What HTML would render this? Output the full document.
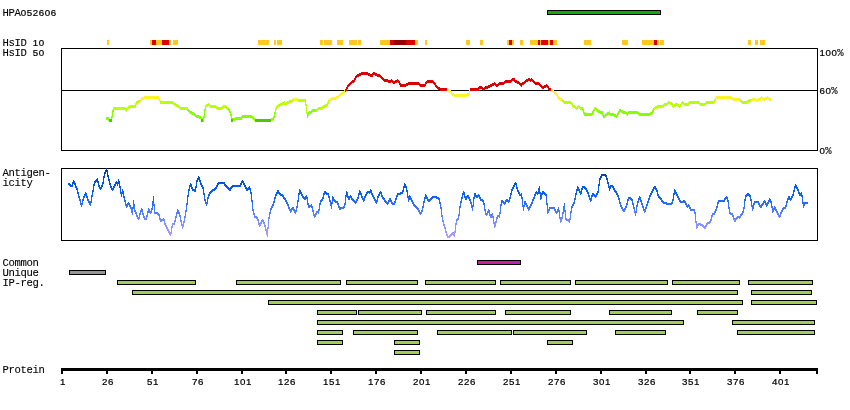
<!DOCTYPE html>
<html><head><meta charset="utf-8"><title>HPA052606</title>
<style>
html,body{margin:0;padding:0;background:#fff}
svg{display:block}
text{fill:#000;white-space:pre;stroke:#000}
.m{font-family:'Liberation Mono',monospace;font-size:10.6px;letter-spacing:-0.36px;stroke-width:0.1px}
.d{font-family:'Liberation Sans',sans-serif;font-size:9.7px;letter-spacing:0.61px;stroke-width:0.22px}
</style></head><body>
<svg width="850" height="410" viewBox="0 0 850 410">
<rect width="850" height="410" fill="#fff"/>
<text y="16"><tspan class="m" x="2.5">HPA</tspan><tspan class="d" x="20.7">052606</tspan></text>
<text y="46"><tspan class="m" x="2.5">HsID </tspan><tspan class="d" x="32.7">10</tspan></text>
<text y="56"><tspan class="m" x="2.5">HsID </tspan><tspan class="d" x="32.7">50</tspan></text>
<text y="56"><tspan class="d" x="819.5">100</tspan><tspan class="m" x="837.3">%</tspan></text>
<text y="94"><tspan class="d" x="819.5">60</tspan><tspan class="m" x="831.3">%</tspan></text>
<text y="154"><tspan class="d" x="819.5">0</tspan><tspan class="m" x="825.3">%</tspan></text>
<text y="176"><tspan class="m" x="2.5">Antigen-</tspan></text>
<text y="186"><tspan class="m" x="2.5">icity</tspan></text>
<text y="266"><tspan class="m" x="2.5">Common</tspan></text>
<text y="276"><tspan class="m" x="2.5">Unique</tspan></text>
<text y="286"><tspan class="m" x="2.5">IP-reg.</tspan></text>
<text y="373"><tspan class="m" x="2.5">Protein</tspan></text>
<g shape-rendering="crispEdges">
<rect x="547.5" y="10.5" width="113" height="4" fill="#12aa04" stroke="#000" stroke-width="1"/>
<rect x="107" y="40" width="2" height="5" fill="#ffc820"/>
<rect x="150" y="40" width="2" height="5" fill="#ffc820"/>
<rect x="152" y="40" width="4" height="5" fill="#dd0000"/>
<rect x="156" y="40" width="6" height="5" fill="#ffc820"/>
<rect x="162" y="40" width="7" height="5" fill="#dd0000"/>
<rect x="169" y="40" width="2" height="5" fill="#ffc820"/>
<rect x="173" y="40" width="5" height="5" fill="#ffc820"/>
<rect x="258" y="40" width="11" height="5" fill="#ffc820"/>
<rect x="274" y="40" width="2" height="5" fill="#ffc820"/>
<rect x="277" y="40" width="5" height="5" fill="#ffc820"/>
<rect x="320" y="40" width="3" height="5" fill="#ffc820"/>
<rect x="324" y="40" width="8" height="5" fill="#ffc820"/>
<rect x="337" y="40" width="6" height="5" fill="#ffc820"/>
<rect x="349" y="40" width="8" height="5" fill="#ffc820"/>
<rect x="358" y="40" width="3" height="5" fill="#ffc820"/>
<rect x="380" y="40" width="10" height="5" fill="#ffc820"/>
<rect x="390" y="40" width="4" height="5" fill="#dd0000"/>
<rect x="394" y="40" width="12" height="5" fill="#990000"/>
<rect x="406" y="40" width="9" height="5" fill="#dd0000"/>
<rect x="415" y="40" width="3" height="5" fill="#ffc820"/>
<rect x="425" y="40" width="2" height="5" fill="#ffc820"/>
<rect x="466" y="40" width="4" height="5" fill="#ffc820"/>
<rect x="480" y="40" width="3" height="5" fill="#ffc820"/>
<rect x="507" y="40" width="2" height="5" fill="#ffc820"/>
<rect x="509" y="40" width="3" height="5" fill="#dd0000"/>
<rect x="512" y="40" width="2" height="5" fill="#ffc820"/>
<rect x="520" y="40" width="3" height="5" fill="#ffc820"/>
<rect x="530" y="40" width="8" height="5" fill="#ffc820"/>
<rect x="538" y="40" width="2" height="5" fill="#dd0000"/>
<rect x="540" y="40" width="1" height="5" fill="#ffc820"/>
<rect x="541" y="40" width="7" height="5" fill="#dd0000"/>
<rect x="548" y="40" width="2" height="5" fill="#ffc820"/>
<rect x="550" y="40" width="3" height="5" fill="#dd0000"/>
<rect x="553" y="40" width="4" height="5" fill="#ffc820"/>
<rect x="584" y="40" width="7" height="5" fill="#ffc820"/>
<rect x="622" y="40" width="6" height="5" fill="#ffc820"/>
<rect x="642" y="40" width="12" height="5" fill="#ffc820"/>
<rect x="654" y="40" width="3" height="5" fill="#dd0000"/>
<rect x="657" y="40" width="2" height="5" fill="#ffc820"/>
<rect x="660" y="40" width="4" height="5" fill="#ffc820"/>
<rect x="748" y="40" width="3" height="5" fill="#ffc820"/>
<rect x="755" y="40" width="3" height="5" fill="#ffc820"/>
<rect x="760" y="40" width="5" height="5" fill="#ffc820"/>
<rect x="61.5" y="48.5" width="756" height="102" fill="none" stroke="#000"/>
<rect x="61" y="90" width="757" height="1" fill="#000"/>
<rect x="61.5" y="168.5" width="756" height="72" fill="none" stroke="#000"/>
<rect x="477.5" y="260.5" width="43" height="4" fill="#ca1da7" stroke="#000" stroke-width="1"/>
<rect x="69.5" y="270.5" width="36" height="4" fill="#959595" stroke="#000" stroke-width="1"/>
<rect x="117.5" y="280.5" width="78" height="4" fill="#a2cd5a" stroke="#000" stroke-width="1"/>
<rect x="236.5" y="280.5" width="104" height="4" fill="#a2cd5a" stroke="#000" stroke-width="1"/>
<rect x="346.5" y="280.5" width="71" height="4" fill="#a2cd5a" stroke="#000" stroke-width="1"/>
<rect x="425.5" y="280.5" width="70" height="4" fill="#a2cd5a" stroke="#000" stroke-width="1"/>
<rect x="500.5" y="280.5" width="70" height="4" fill="#a2cd5a" stroke="#000" stroke-width="1"/>
<rect x="575.5" y="280.5" width="92" height="4" fill="#a2cd5a" stroke="#000" stroke-width="1"/>
<rect x="672.5" y="280.5" width="67" height="4" fill="#a2cd5a" stroke="#000" stroke-width="1"/>
<rect x="748.5" y="280.5" width="64" height="4" fill="#a2cd5a" stroke="#000" stroke-width="1"/>
<rect x="132.5" y="290.5" width="605" height="4" fill="#a2cd5a" stroke="#000" stroke-width="1"/>
<rect x="751.5" y="290.5" width="60" height="4" fill="#a2cd5a" stroke="#000" stroke-width="1"/>
<rect x="268.5" y="300.5" width="474" height="4" fill="#a2cd5a" stroke="#000" stroke-width="1"/>
<rect x="751.5" y="300.5" width="65" height="4" fill="#a2cd5a" stroke="#000" stroke-width="1"/>
<rect x="317.5" y="310.5" width="39" height="4" fill="#a2cd5a" stroke="#000" stroke-width="1"/>
<rect x="358.5" y="310.5" width="63" height="4" fill="#a2cd5a" stroke="#000" stroke-width="1"/>
<rect x="426.5" y="310.5" width="69" height="4" fill="#a2cd5a" stroke="#000" stroke-width="1"/>
<rect x="505.5" y="310.5" width="65" height="4" fill="#a2cd5a" stroke="#000" stroke-width="1"/>
<rect x="609.5" y="310.5" width="62" height="4" fill="#a2cd5a" stroke="#000" stroke-width="1"/>
<rect x="697.5" y="310.5" width="40" height="4" fill="#a2cd5a" stroke="#000" stroke-width="1"/>
<rect x="317.5" y="320.5" width="366" height="4" fill="#a2cd5a" stroke="#000" stroke-width="1"/>
<rect x="732.5" y="320.5" width="82" height="4" fill="#a2cd5a" stroke="#000" stroke-width="1"/>
<rect x="317.5" y="330.5" width="25" height="4" fill="#a2cd5a" stroke="#000" stroke-width="1"/>
<rect x="353.5" y="330.5" width="64" height="4" fill="#a2cd5a" stroke="#000" stroke-width="1"/>
<rect x="437.5" y="330.5" width="74" height="4" fill="#a2cd5a" stroke="#000" stroke-width="1"/>
<rect x="513.5" y="330.5" width="73" height="4" fill="#a2cd5a" stroke="#000" stroke-width="1"/>
<rect x="615.5" y="330.5" width="50" height="4" fill="#a2cd5a" stroke="#000" stroke-width="1"/>
<rect x="737.5" y="330.5" width="77" height="4" fill="#a2cd5a" stroke="#000" stroke-width="1"/>
<rect x="317.5" y="340.5" width="25" height="4" fill="#a2cd5a" stroke="#000" stroke-width="1"/>
<rect x="394.5" y="340.5" width="25" height="4" fill="#a2cd5a" stroke="#000" stroke-width="1"/>
<rect x="547.5" y="340.5" width="25" height="4" fill="#a2cd5a" stroke="#000" stroke-width="1"/>
<rect x="394.5" y="350.5" width="25" height="4" fill="#a2cd5a" stroke="#000" stroke-width="1"/>
<rect x="61" y="368" width="757" height="3" fill="#000"/>
<rect x="61" y="371" width="2" height="3" fill="#000"/>
<rect x="106" y="371" width="2" height="3" fill="#000"/>
<rect x="151" y="371" width="2" height="3" fill="#000"/>
<rect x="196" y="371" width="2" height="3" fill="#000"/>
<rect x="241" y="371" width="2" height="3" fill="#000"/>
<rect x="285" y="371" width="2" height="3" fill="#000"/>
<rect x="330" y="371" width="2" height="3" fill="#000"/>
<rect x="375" y="371" width="2" height="3" fill="#000"/>
<rect x="420" y="371" width="2" height="3" fill="#000"/>
<rect x="465" y="371" width="2" height="3" fill="#000"/>
<rect x="510" y="371" width="2" height="3" fill="#000"/>
<rect x="555" y="371" width="2" height="3" fill="#000"/>
<rect x="600" y="371" width="2" height="3" fill="#000"/>
<rect x="645" y="371" width="2" height="3" fill="#000"/>
<rect x="689" y="371" width="2" height="3" fill="#000"/>
<rect x="734" y="371" width="2" height="3" fill="#000"/>
<rect x="779" y="371" width="2" height="3" fill="#000"/>
<rect x="816" y="371" width="2" height="3" fill="#000"/>
</g>
<text y="385"><tspan class="d" x="59.9">1</tspan></text>
<text y="385"><tspan class="d" x="101.9">26</tspan></text>
<text y="385"><tspan class="d" x="146.9">51</tspan></text>
<text y="385"><tspan class="d" x="191.9">76</tspan></text>
<text y="385"><tspan class="d" x="233.9">101</tspan></text>
<text y="385"><tspan class="d" x="277.9">126</tspan></text>
<text y="385"><tspan class="d" x="322.9">151</tspan></text>
<text y="385"><tspan class="d" x="367.9">176</tspan></text>
<text y="385"><tspan class="d" x="412.9">201</tspan></text>
<text y="385"><tspan class="d" x="457.9">226</tspan></text>
<text y="385"><tspan class="d" x="502.9">251</tspan></text>
<text y="385"><tspan class="d" x="547.9">276</tspan></text>
<text y="385"><tspan class="d" x="592.9">301</tspan></text>
<text y="385"><tspan class="d" x="637.9">326</tspan></text>
<text y="385"><tspan class="d" x="681.9">351</tspan></text>
<text y="385"><tspan class="d" x="726.9">376</tspan></text>
<text y="385"><tspan class="d" x="771.9">401</tspan></text>
<g shape-rendering="crispEdges">
<path fill="#88ff00" d="M582 107h1v1h-1zM205 108h1v1h-1zM228 108h1v1h-1zM582 108h1v1h-1zM596 108h1v1h-1zM653 108h1v1h-1zM188 109h1v1h-1zM204 109h2v1h-2zM228 109h2v1h-2zM312 109h4v1h-4zM582 109h2v1h-2zM593 109h1v1h-1zM596 109h2v1h-2zM619 109h2v1h-2zM653 109h1v1h-1zM112 110h2v1h-2zM188 110h2v1h-2zM204 110h2v1h-2zM228 110h2v1h-2zM311 110h5v1h-5zM582 110h2v1h-2zM593 110h2v1h-2zM596 110h4v1h-4zM619 110h4v1h-4zM652 110h2v1h-2zM112 111h2v1h-2zM188 111h4v1h-4zM204 111h1v1h-1zM229 111h2v1h-2zM309 111h7v1h-7zM583 111h1v1h-1zM592 111h2v1h-2zM597 111h6v1h-6zM609 111h1v1h-1zM618 111h8v1h-8zM628 111h10v1h-10zM652 111h2v1h-2zM112 112h1v1h-1zM189 112h5v1h-5zM204 112h1v1h-1zM229 112h2v1h-2zM274 112h1v1h-1zM308 112h4v1h-4zM583 112h2v1h-2zM592 112h2v1h-2zM598 112h5v1h-5zM607 112h3v1h-3zM618 112h2v1h-2zM621 112h18v1h-18zM650 112h3v1h-3zM112 113h1v1h-1zM190 113h5v1h-5zM204 113h1v1h-1zM230 113h1v1h-1zM274 113h2v1h-2zM308 113h3v1h-3zM583 113h10v1h-10zM600 113h3v1h-3zM606 113h8v1h-8zM617 113h2v1h-2zM623 113h30v1h-30zM112 114h1v1h-1zM192 114h4v1h-4zM204 114h1v1h-1zM230 114h2v1h-2zM274 114h1v1h-1zM307 114h2v1h-2zM584 114h9v1h-9zM602 114h2v1h-2zM605 114h11v1h-11zM617 114h2v1h-2zM626 114h2v1h-2zM638 114h14v1h-14zM112 115h1v1h-1zM194 115h5v1h-5zM204 115h1v1h-1zM230 115h2v1h-2zM242 115h10v1h-10zM274 115h1v1h-1zM307 115h2v1h-2zM584 115h8v1h-8zM602 115h5v1h-5zM610 115h8v1h-8zM627 115h1v1h-1zM639 115h11v1h-11zM111 116h2v1h-2zM195 116h6v1h-6zM203 116h2v1h-2zM231 116h1v1h-1zM241 116h12v1h-12zM273 116h2v1h-2zM307 116h1v1h-1zM603 116h3v1h-3zM614 116h4v1h-4zM106 117h3v1h-3zM111 117h2v1h-2zM196 117h6v1h-6zM203 117h2v1h-2zM231 117h1v1h-1zM235 117h19v1h-19zM273 117h2v1h-2zM307 117h1v1h-1zM603 117h2v1h-2zM616 117h1v1h-1zM106 118h3v1h-3zM111 118h1v1h-1zM199 118h5v1h-5zM231 118h11v1h-11zM252 118h3v1h-3zM271 118h3v1h-3zM106 119h3v1h-3zM203 119h1v1h-1zM233 119h9v1h-9zM253 119h2v1h-2zM271 119h3v1h-3zM108 120h1v1h-1zM203 120h1v1h-1zM233 120h2v1h-2zM254 120h1v1h-1zM271 120h2v1h-2zM203 121h1v1h-1z"/>
<path fill="#50c800" d="M109 119h3v1h-3zM201 119h2v1h-2zM231 119h2v1h-2zM255 119h16v1h-16zM109 120h3v1h-3zM201 120h2v1h-2zM231 120h2v1h-2zM255 120h16v1h-16zM109 121h3v1h-3zM201 121h2v1h-2zM231 121h2v1h-2zM255 121h16v1h-16z"/>
<path fill="#bbff00" d="M292 99h1v1h-1zM298 99h8v1h-8zM562 99h1v1h-1zM714 99h1v1h-1zM740 99h1v1h-1zM749 99h2v1h-2zM138 100h2v1h-2zM289 100h4v1h-4zM298 100h8v1h-8zM328 100h1v1h-1zM562 100h2v1h-2zM714 100h1v1h-1zM740 100h2v1h-2zM747 100h4v1h-4zM136 101h4v1h-4zM160 101h13v1h-13zM284 101h1v1h-1zM287 101h6v1h-6zM298 101h8v1h-8zM328 101h1v1h-1zM562 101h9v1h-9zM668 101h2v1h-2zM682 101h1v1h-1zM689 101h10v1h-10zM706 101h9v1h-9zM740 101h11v1h-11zM136 102h4v1h-4zM160 102h14v1h-14zM282 102h3v1h-3zM286 102h6v1h-6zM305 102h1v1h-1zM327 102h2v1h-2zM563 102h9v1h-9zM667 102h5v1h-5zM681 102h3v1h-3zM688 102h12v1h-12zM705 102h10v1h-10zM741 102h8v1h-8zM135 103h3v1h-3zM160 103h16v1h-16zM208 103h1v1h-1zM280 103h9v1h-9zM305 103h1v1h-1zM327 103h2v1h-2zM564 103h9v1h-9zM664 103h9v1h-9zM675 103h3v1h-3zM681 103h33v1h-33zM742 103h5v1h-5zM135 104h2v1h-2zM173 104h5v1h-5zM206 104h4v1h-4zM278 104h9v1h-9zM305 104h2v1h-2zM325 104h3v1h-3zM571 104h2v1h-2zM663 104h5v1h-5zM670 104h3v1h-3zM674 104h5v1h-5zM680 104h2v1h-2zM683 104h6v1h-6zM699 104h7v1h-7zM129 105h7v1h-7zM174 105h5v1h-5zM205 105h11v1h-11zM223 105h3v1h-3zM277 105h5v1h-5zM285 105h1v1h-1zM305 105h2v1h-2zM323 105h5v1h-5zM572 105h3v1h-3zM578 105h1v1h-1zM657 105h10v1h-10zM672 105h10v1h-10zM684 105h5v1h-5zM700 105h5v1h-5zM128 106h8v1h-8zM176 106h4v1h-4zM205 106h3v1h-3zM209 106h8v1h-8zM222 106h5v1h-5zM276 106h4v1h-4zM306 106h1v1h-1zM322 106h5v1h-5zM572 106h4v1h-4zM577 106h3v1h-3zM655 106h9v1h-9zM672 106h3v1h-3zM678 106h3v1h-3zM113 107h12v1h-12zM127 107h9v1h-9zM178 107h10v1h-10zM205 107h1v1h-1zM210 107h18v1h-18zM276 107h2v1h-2zM306 107h1v1h-1zM318 107h7v1h-7zM573 107h9v1h-9zM594 107h2v1h-2zM654 107h9v1h-9zM673 107h1v1h-1zM679 107h1v1h-1zM113 108h16v1h-16zM179 108h9v1h-9zM216 108h7v1h-7zM226 108h2v1h-2zM275 108h2v1h-2zM306 108h1v1h-1zM317 108h6v1h-6zM575 108h3v1h-3zM579 108h3v1h-3zM594 108h2v1h-2zM654 108h3v1h-3zM113 109h15v1h-15zM180 109h8v1h-8zM217 109h5v1h-5zM227 109h1v1h-1zM275 109h2v1h-2zM306 109h1v1h-1zM316 109h6v1h-6zM576 109h1v1h-1zM580 109h2v1h-2zM594 109h2v1h-2zM654 109h1v1h-1zM125 110h2v1h-2zM187 110h1v1h-1zM275 110h1v1h-1zM306 110h1v1h-1zM316 110h2v1h-2zM126 111h1v1h-1zM275 111h1v1h-1zM306 111h1v1h-1zM316 111h1v1h-1zM275 112h1v1h-1zM306 112h2v1h-2zM306 113h2v1h-2z"/>
<path fill="#fff228" d="M447 88h1v1h-1zM447 89h2v1h-2zM551 89h2v1h-2zM344 90h1v1h-1zM447 90h4v1h-4zM469 90h1v1h-1zM551 90h3v1h-3zM343 91h2v1h-2zM448 91h4v1h-4zM469 91h2v1h-2zM551 91h4v1h-4zM341 92h4v1h-4zM449 92h3v1h-3zM469 92h1v1h-1zM553 92h3v1h-3zM340 93h4v1h-4zM451 93h3v1h-3zM467 93h3v1h-3zM554 93h3v1h-3zM339 94h4v1h-4zM451 94h19v1h-19zM555 94h3v1h-3zM338 95h3v1h-3zM452 95h17v1h-17zM556 95h2v1h-2zM144 96h15v1h-15zM336 96h4v1h-4zM454 96h13v1h-13zM557 96h2v1h-2zM716 96h15v1h-15zM761 96h1v1h-1zM767 96h1v1h-1zM142 97h17v1h-17zM332 97h7v1h-7zM557 97h3v1h-3zM715 97h18v1h-18zM760 97h3v1h-3zM765 97h4v1h-4zM141 98h19v1h-19zM293 98h5v1h-5zM330 98h8v1h-8zM558 98h4v1h-4zM715 98h25v1h-25zM752 98h4v1h-4zM758 98h13v1h-13zM140 99h4v1h-4zM158 99h2v1h-2zM293 99h5v1h-5zM329 99h7v1h-7zM558 99h4v1h-4zM715 99h1v1h-1zM731 99h9v1h-9zM751 99h10v1h-10zM762 99h5v1h-5zM768 99h3v1h-3zM140 100h2v1h-2zM159 100h2v1h-2zM293 100h5v1h-5zM329 100h3v1h-3zM560 100h2v1h-2zM715 100h1v1h-1zM733 100h7v1h-7zM751 100h10v1h-10zM763 100h2v1h-2zM769 100h2v1h-2zM140 101h1v1h-1zM159 101h1v1h-1zM329 101h1v1h-1zM751 101h1v1h-1zM756 101h2v1h-2z"/>
<path fill="#dd0000" d="M361 72h7v1h-7zM373 72h2v1h-2zM359 73h11v1h-11zM372 73h5v1h-5zM357 74h23v1h-23zM356 75h5v1h-5zM368 75h5v1h-5zM375 75h6v1h-6zM355 76h4v1h-4zM370 76h3v1h-3zM377 76h5v1h-5zM355 77h2v1h-2zM380 77h3v1h-3zM354 78h2v1h-2zM381 78h3v1h-3zM512 78h3v1h-3zM528 78h2v1h-2zM531 78h1v1h-1zM354 79h2v1h-2zM382 79h6v1h-6zM391 79h1v1h-1zM397 79h1v1h-1zM511 79h4v1h-4zM526 79h7v1h-7zM352 80h3v1h-3zM383 80h10v1h-10zM395 80h4v1h-4zM427 80h6v1h-6zM505 80h12v1h-12zM525 80h9v1h-9zM351 81h4v1h-4zM384 81h16v1h-16zM426 81h8v1h-8zM504 81h8v1h-8zM514 81h5v1h-5zM524 81h4v1h-4zM530 81h1v1h-1zM532 81h3v1h-3zM350 82h4v1h-4zM388 82h3v1h-3zM392 82h5v1h-5zM398 82h2v1h-2zM408 82h11v1h-11zM425 82h10v1h-10zM494 82h1v1h-1zM499 82h12v1h-12zM515 82h5v1h-5zM522 82h4v1h-4zM533 82h6v1h-6zM349 83h3v1h-3zM393 83h2v1h-2zM399 83h2v1h-2zM406 83h14v1h-14zM425 83h2v1h-2zM433 83h3v1h-3zM492 83h4v1h-4zM498 83h7v1h-7zM517 83h8v1h-8zM534 83h6v1h-6zM348 84h3v1h-3zM399 84h27v1h-27zM434 84h2v1h-2zM490 84h14v1h-14zM519 84h5v1h-5zM535 84h6v1h-6zM546 84h1v1h-1zM347 85h3v1h-3zM400 85h8v1h-8zM419 85h7v1h-7zM435 85h2v1h-2zM488 85h6v1h-6zM495 85h4v1h-4zM520 85h2v1h-2zM539 85h3v1h-3zM544 85h4v1h-4zM347 86h2v1h-2zM400 86h6v1h-6zM420 86h5v1h-5zM435 86h3v1h-3zM479 86h3v1h-3zM485 86h7v1h-7zM496 86h2v1h-2zM521 86h1v1h-1zM540 86h9v1h-9zM346 87h2v1h-2zM436 87h4v1h-4zM478 87h5v1h-5zM484 87h6v1h-6zM541 87h5v1h-5zM547 87h2v1h-2zM346 88h2v1h-2zM437 88h10v1h-10zM470 88h18v1h-18zM542 88h2v1h-2zM548 88h3v1h-3zM345 89h2v1h-2zM438 89h9v1h-9zM470 89h9v1h-9zM482 89h3v1h-3zM548 89h3v1h-3zM345 90h2v1h-2zM440 90h7v1h-7zM470 90h9v1h-9zM483 90h1v1h-1zM549 90h2v1h-2zM345 91h1v1h-1z"/>
</g>
<g shape-rendering="crispEdges">
<path fill="#003d97" d="M106 168h1v1h-1z"/>
<path fill="#003e9a" d="M106 169h1v1h-1z"/>
<path fill="#00409d" d="M105 170h3v1h-3z"/>
<path fill="#0041a0" d="M105 171h3v1h-3z"/>
<path fill="#0042a3" d="M104 172h2v1h-2zM107 172h1v1h-1z"/>
<path fill="#0044a6" d="M104 173h2v1h-2zM107 173h1v1h-1z"/>
<path fill="#0045a9" d="M104 174h1v1h-1zM107 174h1v1h-1zM601 174h5v1h-5z"/>
<path fill="#0047ae" d="M104 175h1v1h-1zM107 175h2v1h-2zM601 175h6v1h-6z"/>
<path fill="#0049b5" d="M103 176h2v1h-2zM107 176h2v1h-2zM198 176h1v1h-1zM600 176h2v1h-2zM605 176h2v1h-2z"/>
<path fill="#004bbd" d="M103 177h2v1h-2zM108 177h1v1h-1zM198 177h2v1h-2zM600 177h2v1h-2zM606 177h1v1h-1z"/>
<path fill="#004dc5" d="M97 178h1v1h-1zM103 178h1v1h-1zM108 178h1v1h-1zM197 178h3v1h-3zM599 178h2v1h-2zM606 178h2v1h-2z"/>
<path fill="#004fcc" d="M96 179h2v1h-2zM103 179h1v1h-1zM108 179h2v1h-2zM118 179h1v1h-1zM197 179h3v1h-3zM599 179h2v1h-2zM606 179h2v1h-2z"/>
<path fill="#0051d2" d="M73 180h1v1h-1zM95 180h3v1h-3zM103 180h1v1h-1zM108 180h2v1h-2zM118 180h1v1h-1zM196 180h2v1h-2zM199 180h2v1h-2zM242 180h1v1h-1zM599 180h1v1h-1zM607 180h1v1h-1z"/>
<path fill="#0052d6" d="M73 181h2v1h-2zM94 181h5v1h-5zM103 181h1v1h-1zM109 181h1v1h-1zM116 181h1v1h-1zM118 181h2v1h-2zM196 181h2v1h-2zM199 181h2v1h-2zM241 181h3v1h-3zM599 181h1v1h-1zM607 181h1v1h-1z"/>
<path fill="#0053db" d="M72 182h3v1h-3zM94 182h2v1h-2zM97 182h2v1h-2zM102 182h2v1h-2zM109 182h1v1h-1zM115 182h5v1h-5zM196 182h1v1h-1zM200 182h1v1h-1zM218 182h7v1h-7zM241 182h3v1h-3zM515 182h1v1h-1zM599 182h1v1h-1zM607 182h2v1h-2z"/>
<path fill="#0055df" d="M68 183h2v1h-2zM72 183h4v1h-4zM94 183h1v1h-1zM98 183h1v1h-1zM102 183h2v1h-2zM109 183h2v1h-2zM115 183h5v1h-5zM190 183h1v1h-1zM196 183h1v1h-1zM200 183h2v1h-2zM217 183h8v1h-8zM240 183h2v1h-2zM243 183h2v1h-2zM404 183h1v1h-1zM514 183h3v1h-3zM599 183h1v1h-1zM607 183h2v1h-2z"/>
<path fill="#0056e4" d="M68 184h3v1h-3zM72 184h1v1h-1zM74 184h2v1h-2zM93 184h2v1h-2zM98 184h1v1h-1zM102 184h1v1h-1zM109 184h2v1h-2zM114 184h2v1h-2zM117 184h1v1h-1zM119 184h1v1h-1zM190 184h2v1h-2zM196 184h1v1h-1zM200 184h2v1h-2zM217 184h2v1h-2zM224 184h2v1h-2zM240 184h2v1h-2zM243 184h2v1h-2zM404 184h2v1h-2zM514 184h3v1h-3zM598 184h2v1h-2zM608 184h1v1h-1zM795 184h1v1h-1z"/>
<path fill="#0057e8" d="M69 185h4v1h-4zM75 185h1v1h-1zM93 185h2v1h-2zM98 185h2v1h-2zM101 185h2v1h-2zM110 185h1v1h-1zM114 185h2v1h-2zM117 185h1v1h-1zM119 185h1v1h-1zM189 185h3v1h-3zM196 185h1v1h-1zM201 185h2v1h-2zM216 185h2v1h-2zM224 185h3v1h-3zM232 185h9v1h-9zM244 185h2v1h-2zM404 185h2v1h-2zM513 185h2v1h-2zM516 185h1v1h-1zM598 185h2v1h-2zM608 185h1v1h-1zM610 185h3v1h-3zM795 185h2v1h-2z"/>
<path fill="#0159ea" d="M70 186h3v1h-3zM75 186h2v1h-2zM93 186h1v1h-1zM98 186h2v1h-2zM101 186h2v1h-2zM110 186h2v1h-2zM113 186h2v1h-2zM119 186h2v1h-2zM189 186h3v1h-3zM195 186h2v1h-2zM201 186h2v1h-2zM216 186h2v1h-2zM225 186h3v1h-3zM231 186h10v1h-10zM244 186h2v1h-2zM249 186h1v1h-1zM403 186h4v1h-4zM513 186h2v1h-2zM516 186h1v1h-1zM539 186h1v1h-1zM577 186h1v1h-1zM582 186h3v1h-3zM598 186h1v1h-1zM608 186h6v1h-6zM654 186h2v1h-2zM794 186h3v1h-3z"/>
<path fill="#025aeb" d="M75 187h2v1h-2zM93 187h1v1h-1zM99 187h3v1h-3zM110 187h2v1h-2zM113 187h2v1h-2zM119 187h2v1h-2zM189 187h1v1h-1zM191 187h2v1h-2zM195 187h2v1h-2zM202 187h2v1h-2zM215 187h2v1h-2zM226 187h3v1h-3zM230 187h3v1h-3zM245 187h2v1h-2zM248 187h2v1h-2zM403 187h4v1h-4zM512 187h2v1h-2zM516 187h2v1h-2zM539 187h1v1h-1zM577 187h2v1h-2zM582 187h4v1h-4zM598 187h1v1h-1zM608 187h3v1h-3zM612 187h2v1h-2zM653 187h3v1h-3zM794 187h4v1h-4z"/>
<path fill="#035bec" d="M76 188h2v1h-2zM93 188h1v1h-1zM99 188h3v1h-3zM111 188h3v1h-3zM120 188h1v1h-1zM189 188h1v1h-1zM191 188h2v1h-2zM195 188h1v1h-1zM202 188h2v1h-2zM214 188h3v1h-3zM227 188h5v1h-5zM245 188h6v1h-6zM403 188h1v1h-1zM406 188h1v1h-1zM512 188h2v1h-2zM516 188h2v1h-2zM538 188h2v1h-2zM577 188h2v1h-2zM581 188h2v1h-2zM584 188h3v1h-3zM598 188h1v1h-1zM609 188h2v1h-2zM613 188h2v1h-2zM653 188h4v1h-4zM794 188h1v1h-1zM796 188h2v1h-2z"/>
<path fill="#055ced" d="M76 189h2v1h-2zM93 189h1v1h-1zM100 189h1v1h-1zM111 189h3v1h-3zM120 189h1v1h-1zM122 189h1v1h-1zM188 189h2v1h-2zM192 189h4v1h-4zM203 189h1v1h-1zM212 189h4v1h-4zM228 189h3v1h-3zM246 189h5v1h-5zM299 189h1v1h-1zM370 189h1v1h-1zM403 189h1v1h-1zM406 189h1v1h-1zM511 189h2v1h-2zM517 189h1v1h-1zM538 189h2v1h-2zM576 189h4v1h-4zM581 189h2v1h-2zM585 189h2v1h-2zM598 189h1v1h-1zM609 189h1v1h-1zM613 189h2v1h-2zM652 189h2v1h-2zM655 189h2v1h-2zM674 189h1v1h-1zM794 189h1v1h-1zM797 189h2v1h-2z"/>
<path fill="#065dee" d="M77 190h1v1h-1zM92 190h2v1h-2zM112 190h1v1h-1zM120 190h1v1h-1zM122 190h1v1h-1zM188 190h2v1h-2zM192 190h4v1h-4zM203 190h1v1h-1zM211 190h4v1h-4zM229 190h2v1h-2zM246 190h2v1h-2zM250 190h1v1h-1zM277 190h2v1h-2zM299 190h2v1h-2zM359 190h1v1h-1zM370 190h2v1h-2zM402 190h2v1h-2zM406 190h2v1h-2zM511 190h2v1h-2zM517 190h2v1h-2zM538 190h2v1h-2zM576 190h4v1h-4zM581 190h1v1h-1zM586 190h2v1h-2zM598 190h1v1h-1zM609 190h1v1h-1zM614 190h2v1h-2zM652 190h2v1h-2zM656 190h2v1h-2zM674 190h2v1h-2zM793 190h2v1h-2zM797 190h2v1h-2z"/>
<path fill="#075eef" d="M77 191h1v1h-1zM92 191h2v1h-2zM120 191h1v1h-1zM122 191h2v1h-2zM188 191h1v1h-1zM194 191h2v1h-2zM203 191h1v1h-1zM210 191h3v1h-3zM250 191h1v1h-1zM277 191h2v1h-2zM299 191h2v1h-2zM324 191h2v1h-2zM346 191h1v1h-1zM359 191h2v1h-2zM367 191h5v1h-5zM380 191h1v1h-1zM402 191h2v1h-2zM406 191h2v1h-2zM463 191h1v1h-1zM511 191h1v1h-1zM517 191h2v1h-2zM536 191h1v1h-1zM538 191h2v1h-2zM542 191h2v1h-2zM576 191h1v1h-1zM579 191h3v1h-3zM586 191h2v1h-2zM597 191h2v1h-2zM614 191h3v1h-3zM651 191h2v1h-2zM656 191h2v1h-2zM674 191h2v1h-2zM793 191h2v1h-2zM798 191h1v1h-1z"/>
<path fill="#095ff0" d="M77 192h2v1h-2zM85 192h1v1h-1zM92 192h1v1h-1zM120 192h4v1h-4zM188 192h1v1h-1zM203 192h1v1h-1zM209 192h3v1h-3zM250 192h2v1h-2zM276 192h4v1h-4zM299 192h3v1h-3zM324 192h3v1h-3zM346 192h2v1h-2zM359 192h2v1h-2zM366 192h6v1h-6zM379 192h3v1h-3zM400 192h3v1h-3zM407 192h1v1h-1zM463 192h2v1h-2zM511 192h1v1h-1zM518 192h2v1h-2zM535 192h6v1h-6zM542 192h3v1h-3zM576 192h1v1h-1zM579 192h3v1h-3zM587 192h2v1h-2zM597 192h2v1h-2zM615 192h2v1h-2zM651 192h2v1h-2zM657 192h1v1h-1zM674 192h3v1h-3zM793 192h1v1h-1zM798 192h2v1h-2zM801 192h1v1h-1z"/>
<path fill="#0a60f1" d="M77 193h2v1h-2zM85 193h2v1h-2zM92 193h1v1h-1zM120 193h4v1h-4zM188 193h1v1h-1zM203 193h2v1h-2zM209 193h2v1h-2zM250 193h2v1h-2zM276 193h5v1h-5zM298 193h4v1h-4zM323 193h6v1h-6zM346 193h2v1h-2zM358 193h4v1h-4zM366 193h2v1h-2zM369 193h1v1h-1zM371 193h2v1h-2zM379 193h3v1h-3zM397 193h6v1h-6zM407 193h1v1h-1zM462 193h3v1h-3zM474 193h2v1h-2zM510 193h2v1h-2zM518 193h2v1h-2zM521 193h1v1h-1zM535 193h11v1h-11zM575 193h2v1h-2zM580 193h2v1h-2zM587 193h2v1h-2zM592 193h2v1h-2zM596 193h2v1h-2zM616 193h2v1h-2zM650 193h2v1h-2zM657 193h1v1h-1zM673 193h4v1h-4zM747 193h2v1h-2zM793 193h1v1h-1zM798 193h4v1h-4z"/>
<path fill="#0b61f2" d="M78 194h1v1h-1zM84 194h3v1h-3zM92 194h1v1h-1zM121 194h1v1h-1zM123 194h1v1h-1zM188 194h1v1h-1zM203 194h2v1h-2zM208 194h2v1h-2zM251 194h1v1h-1zM275 194h2v1h-2zM279 194h4v1h-4zM298 194h2v1h-2zM301 194h2v1h-2zM323 194h2v1h-2zM326 194h3v1h-3zM346 194h2v1h-2zM358 194h4v1h-4zM365 194h2v1h-2zM371 194h2v1h-2zM378 194h2v1h-2zM381 194h1v1h-1zM397 194h4v1h-4zM407 194h1v1h-1zM425 194h1v1h-1zM462 194h3v1h-3zM474 194h2v1h-2zM478 194h1v1h-1zM510 194h2v1h-2zM519 194h3v1h-3zM534 194h2v1h-2zM537 194h1v1h-1zM540 194h3v1h-3zM544 194h3v1h-3zM575 194h2v1h-2zM580 194h1v1h-1zM588 194h1v1h-1zM592 194h3v1h-3zM596 194h2v1h-2zM616 194h2v1h-2zM650 194h2v1h-2zM657 194h2v1h-2zM673 194h2v1h-2zM676 194h2v1h-2zM746 194h4v1h-4zM792 194h2v1h-2zM799 194h3v1h-3z"/>
<path fill="#0e63f2" d="M78 195h1v1h-1zM84 195h3v1h-3zM91 195h2v1h-2zM121 195h1v1h-1zM123 195h1v1h-1zM187 195h2v1h-2zM204 195h1v1h-1zM208 195h2v1h-2zM251 195h1v1h-1zM275 195h2v1h-2zM280 195h4v1h-4zM298 195h1v1h-1zM301 195h2v1h-2zM306 195h1v1h-1zM323 195h1v1h-1zM328 195h1v1h-1zM345 195h3v1h-3zM350 195h1v1h-1zM358 195h1v1h-1zM361 195h1v1h-1zM365 195h2v1h-2zM372 195h2v1h-2zM378 195h2v1h-2zM381 195h2v1h-2zM396 195h2v1h-2zM407 195h1v1h-1zM409 195h1v1h-1zM425 195h2v1h-2zM462 195h1v1h-1zM464 195h1v1h-1zM467 195h2v1h-2zM474 195h6v1h-6zM510 195h1v1h-1zM519 195h3v1h-3zM534 195h2v1h-2zM540 195h2v1h-2zM545 195h2v1h-2zM575 195h1v1h-1zM588 195h2v1h-2zM591 195h6v1h-6zM617 195h2v1h-2zM649 195h2v1h-2zM657 195h2v1h-2zM673 195h1v1h-1zM676 195h2v1h-2zM745 195h6v1h-6zM792 195h2v1h-2zM799 195h4v1h-4z"/>
<path fill="#1164f3" d="M78 196h2v1h-2zM83 196h2v1h-2zM86 196h2v1h-2zM91 196h2v1h-2zM121 196h1v1h-1zM123 196h2v1h-2zM153 196h1v1h-1zM187 196h2v1h-2zM204 196h1v1h-1zM208 196h1v1h-1zM251 196h1v1h-1zM275 196h1v1h-1zM282 196h2v1h-2zM298 196h1v1h-1zM302 196h2v1h-2zM305 196h2v1h-2zM323 196h1v1h-1zM328 196h2v1h-2zM332 196h1v1h-1zM345 196h7v1h-7zM358 196h1v1h-1zM361 196h2v1h-2zM364 196h2v1h-2zM372 196h2v1h-2zM377 196h2v1h-2zM381 196h2v1h-2zM396 196h2v1h-2zM407 196h4v1h-4zM425 196h2v1h-2zM432 196h5v1h-5zM462 196h1v1h-1zM464 196h5v1h-5zM474 196h6v1h-6zM510 196h1v1h-1zM521 196h1v1h-1zM534 196h1v1h-1zM540 196h2v1h-2zM546 196h1v1h-1zM575 196h1v1h-1zM588 196h2v1h-2zM591 196h2v1h-2zM594 196h3v1h-3zM617 196h2v1h-2zM639 196h1v1h-1zM649 196h2v1h-2zM658 196h2v1h-2zM673 196h1v1h-1zM677 196h2v1h-2zM726 196h1v1h-1zM745 196h2v1h-2zM749 196h2v1h-2zM788 196h2v1h-2zM791 196h2v1h-2zM801 196h2v1h-2z"/>
<path fill="#1565f4" d="M78 197h2v1h-2zM83 197h2v1h-2zM86 197h2v1h-2zM91 197h1v1h-1zM123 197h2v1h-2zM153 197h1v1h-1zM187 197h1v1h-1zM204 197h1v1h-1zM207 197h2v1h-2zM251 197h1v1h-1zM274 197h2v1h-2zM283 197h2v1h-2zM298 197h1v1h-1zM302 197h6v1h-6zM322 197h2v1h-2zM328 197h2v1h-2zM332 197h2v1h-2zM345 197h1v1h-1zM347 197h5v1h-5zM357 197h2v1h-2zM361 197h2v1h-2zM364 197h2v1h-2zM373 197h2v1h-2zM377 197h2v1h-2zM382 197h2v1h-2zM396 197h1v1h-1zM407 197h4v1h-4zM424 197h4v1h-4zM431 197h8v1h-8zM461 197h2v1h-2zM464 197h6v1h-6zM473 197h2v1h-2zM476 197h2v1h-2zM479 197h2v1h-2zM509 197h2v1h-2zM521 197h2v1h-2zM533 197h2v1h-2zM540 197h2v1h-2zM546 197h1v1h-1zM575 197h1v1h-1zM589 197h1v1h-1zM591 197h1v1h-1zM595 197h1v1h-1zM618 197h1v1h-1zM628 197h3v1h-3zM639 197h2v1h-2zM649 197h1v1h-1zM658 197h3v1h-3zM673 197h1v1h-1zM677 197h2v1h-2zM725 197h3v1h-3zM745 197h1v1h-1zM750 197h1v1h-1zM788 197h2v1h-2zM791 197h2v1h-2zM802 197h1v1h-1z"/>
<path fill="#1866f5" d="M79 198h1v1h-1zM83 198h1v1h-1zM87 198h1v1h-1zM91 198h1v1h-1zM124 198h1v1h-1zM153 198h1v1h-1zM187 198h1v1h-1zM204 198h1v1h-1zM207 198h2v1h-2zM251 198h1v1h-1zM274 198h2v1h-2zM283 198h3v1h-3zM298 198h1v1h-1zM303 198h5v1h-5zM322 198h2v1h-2zM329 198h1v1h-1zM332 198h2v1h-2zM345 198h1v1h-1zM348 198h2v1h-2zM351 198h2v1h-2zM357 198h2v1h-2zM362 198h3v1h-3zM373 198h2v1h-2zM377 198h1v1h-1zM382 198h3v1h-3zM389 198h2v1h-2zM395 198h2v1h-2zM408 198h4v1h-4zM424 198h4v1h-4zM430 198h3v1h-3zM436 198h4v1h-4zM461 198h2v1h-2zM465 198h2v1h-2zM468 198h2v1h-2zM473 198h2v1h-2zM479 198h2v1h-2zM509 198h2v1h-2zM521 198h2v1h-2zM533 198h2v1h-2zM540 198h2v1h-2zM546 198h1v1h-1zM574 198h2v1h-2zM589 198h3v1h-3zM618 198h2v1h-2zM628 198h4v1h-4zM638 198h3v1h-3zM648 198h2v1h-2zM659 198h3v1h-3zM673 198h1v1h-1zM678 198h2v1h-2zM724 198h4v1h-4zM745 198h1v1h-1zM750 198h1v1h-1zM769 198h1v1h-1zM787 198h5v1h-5zM802 198h1v1h-1z"/>
<path fill="#1c68f5" d="M79 199h2v1h-2zM82 199h2v1h-2zM87 199h2v1h-2zM91 199h1v1h-1zM124 199h1v1h-1zM153 199h1v1h-1zM187 199h1v1h-1zM204 199h2v1h-2zM207 199h1v1h-1zM251 199h1v1h-1zM274 199h1v1h-1zM284 199h2v1h-2zM298 199h1v1h-1zM304 199h2v1h-2zM307 199h1v1h-1zM321 199h2v1h-2zM329 199h1v1h-1zM332 199h3v1h-3zM345 199h1v1h-1zM348 199h2v1h-2zM351 199h3v1h-3zM356 199h2v1h-2zM362 199h3v1h-3zM374 199h2v1h-2zM377 199h1v1h-1zM383 199h2v1h-2zM389 199h2v1h-2zM395 199h2v1h-2zM408 199h4v1h-4zM424 199h1v1h-1zM427 199h5v1h-5zM438 199h2v1h-2zM461 199h1v1h-1zM465 199h2v1h-2zM469 199h2v1h-2zM473 199h1v1h-1zM480 199h3v1h-3zM506 199h2v1h-2zM509 199h1v1h-1zM522 199h1v1h-1zM532 199h2v1h-2zM540 199h1v1h-1zM546 199h1v1h-1zM574 199h2v1h-2zM589 199h3v1h-3zM618 199h2v1h-2zM627 199h2v1h-2zM630 199h3v1h-3zM638 199h3v1h-3zM648 199h2v1h-2zM660 199h2v1h-2zM672 199h2v1h-2zM678 199h2v1h-2zM724 199h2v1h-2zM727 199h1v1h-1zM744 199h2v1h-2zM750 199h2v1h-2zM769 199h2v1h-2zM787 199h5v1h-5zM802 199h1v1h-1z"/>
<path fill="#1f69f6" d="M79 200h2v1h-2zM82 200h2v1h-2zM87 200h2v1h-2zM91 200h1v1h-1zM124 200h2v1h-2zM133 200h1v1h-1zM153 200h1v1h-1zM187 200h1v1h-1zM204 200h2v1h-2zM207 200h1v1h-1zM251 200h2v1h-2zM274 200h1v1h-1zM285 200h2v1h-2zM297 200h2v1h-2zM307 200h1v1h-1zM320 200h3v1h-3zM329 200h2v1h-2zM332 200h4v1h-4zM345 200h1v1h-1zM352 200h3v1h-3zM356 200h2v1h-2zM363 200h2v1h-2zM374 200h4v1h-4zM384 200h2v1h-2zM388 200h4v1h-4zM395 200h1v1h-1zM408 200h1v1h-1zM411 200h2v1h-2zM424 200h1v1h-1zM427 200h4v1h-4zM439 200h1v1h-1zM461 200h1v1h-1zM469 200h2v1h-2zM473 200h1v1h-1zM480 200h4v1h-4zM501 200h2v1h-2zM505 200h5v1h-5zM522 200h1v1h-1zM532 200h2v1h-2zM546 200h1v1h-1zM574 200h1v1h-1zM590 200h2v1h-2zM619 200h1v1h-1zM627 200h2v1h-2zM631 200h2v1h-2zM638 200h1v1h-1zM640 200h2v1h-2zM648 200h1v1h-1zM661 200h2v1h-2zM672 200h2v1h-2zM679 200h2v1h-2zM683 200h2v1h-2zM718 200h7v1h-7zM727 200h2v1h-2zM744 200h2v1h-2zM750 200h2v1h-2zM764 200h1v1h-1zM768 200h3v1h-3zM787 200h1v1h-1zM790 200h1v1h-1zM802 200h1v1h-1z"/>
<path fill="#236af7" d="M80 201h1v1h-1zM82 201h1v1h-1zM88 201h4v1h-4zM124 201h2v1h-2zM133 201h1v1h-1zM152 201h2v1h-2zM187 201h1v1h-1zM205 201h1v1h-1zM207 201h1v1h-1zM251 201h2v1h-2zM273 201h2v1h-2zM285 201h2v1h-2zM297 201h2v1h-2zM307 201h1v1h-1zM320 201h2v1h-2zM329 201h2v1h-2zM332 201h1v1h-1zM334 201h4v1h-4zM345 201h1v1h-1zM353 201h4v1h-4zM363 201h1v1h-1zM375 201h3v1h-3zM384 201h3v1h-3zM388 201h4v1h-4zM394 201h2v1h-2zM408 201h1v1h-1zM411 201h2v1h-2zM423 201h2v1h-2zM428 201h2v1h-2zM439 201h1v1h-1zM460 201h2v1h-2zM470 201h1v1h-1zM473 201h1v1h-1zM482 201h2v1h-2zM501 201h3v1h-3zM505 201h5v1h-5zM522 201h1v1h-1zM524 201h2v1h-2zM532 201h1v1h-1zM546 201h1v1h-1zM574 201h1v1h-1zM590 201h1v1h-1zM619 201h1v1h-1zM627 201h1v1h-1zM632 201h1v1h-1zM637 201h2v1h-2zM640 201h2v1h-2zM647 201h2v1h-2zM661 201h3v1h-3zM672 201h1v1h-1zM679 201h7v1h-7zM718 201h7v1h-7zM727 201h2v1h-2zM744 201h1v1h-1zM751 201h1v1h-1zM754 201h5v1h-5zM763 201h3v1h-3zM768 201h4v1h-4zM786 201h2v1h-2zM802 201h1v1h-1z"/>
<path fill="#266bf8" d="M80 202h1v1h-1zM82 202h1v1h-1zM88 202h4v1h-4zM125 202h1v1h-1zM128 202h1v1h-1zM133 202h1v1h-1zM152 202h2v1h-2zM187 202h1v1h-1zM205 202h3v1h-3zM252 202h1v1h-1zM273 202h2v1h-2zM286 202h2v1h-2zM297 202h1v1h-1zM307 202h1v1h-1zM320 202h1v1h-1zM330 202h3v1h-3zM335 202h3v1h-3zM345 202h1v1h-1zM354 202h3v1h-3zM375 202h2v1h-2zM385 202h4v1h-4zM391 202h2v1h-2zM394 202h2v1h-2zM412 202h2v1h-2zM423 202h2v1h-2zM439 202h2v1h-2zM460 202h2v1h-2zM470 202h2v1h-2zM473 202h1v1h-1zM483 202h1v1h-1zM501 202h5v1h-5zM508 202h1v1h-1zM522 202h1v1h-1zM524 202h2v1h-2zM531 202h2v1h-2zM546 202h1v1h-1zM573 202h2v1h-2zM619 202h2v1h-2zM627 202h1v1h-1zM632 202h1v1h-1zM637 202h2v1h-2zM641 202h1v1h-1zM647 202h2v1h-2zM662 202h5v1h-5zM671 202h2v1h-2zM680 202h6v1h-6zM717 202h2v1h-2zM728 202h1v1h-1zM744 202h1v1h-1zM751 202h1v1h-1zM754 202h5v1h-5zM763 202h3v1h-3zM767 202h2v1h-2zM770 202h2v1h-2zM786 202h2v1h-2zM802 202h6v1h-6z"/>
<path fill="#2a6df8" d="M80 203h3v1h-3zM89 203h2v1h-2zM125 203h1v1h-1zM127 203h3v1h-3zM133 203h1v1h-1zM152 203h2v1h-2zM186 203h2v1h-2zM205 203h3v1h-3zM252 203h1v1h-1zM273 203h1v1h-1zM286 203h2v1h-2zM297 203h1v1h-1zM307 203h2v1h-2zM319 203h2v1h-2zM330 203h3v1h-3zM337 203h2v1h-2zM344 203h2v1h-2zM355 203h1v1h-1zM376 203h1v1h-1zM386 203h3v1h-3zM391 203h4v1h-4zM412 203h2v1h-2zM423 203h1v1h-1zM439 203h2v1h-2zM460 203h1v1h-1zM470 203h2v1h-2zM473 203h1v1h-1zM483 203h2v1h-2zM501 203h1v1h-1zM503 203h3v1h-3zM522 203h1v1h-1zM524 203h3v1h-3zM531 203h2v1h-2zM546 203h2v1h-2zM564 203h1v1h-1zM573 203h2v1h-2zM619 203h2v1h-2zM626 203h2v1h-2zM632 203h2v1h-2zM637 203h1v1h-1zM641 203h2v1h-2zM647 203h1v1h-1zM663 203h10v1h-10zM685 203h2v1h-2zM717 203h2v1h-2zM728 203h1v1h-1zM744 203h1v1h-1zM751 203h1v1h-1zM753 203h2v1h-2zM758 203h2v1h-2zM762 203h2v1h-2zM765 203h4v1h-4zM771 203h1v1h-1zM786 203h1v1h-1zM802 203h6v1h-6z"/>
<path fill="#2e6ff9" d="M80 204h3v1h-3zM89 204h2v1h-2zM125 204h5v1h-5zM133 204h2v1h-2zM152 204h3v1h-3zM186 204h2v1h-2zM206 204h1v1h-1zM252 204h1v1h-1zM272 204h2v1h-2zM287 204h2v1h-2zM297 204h1v1h-1zM307 204h2v1h-2zM311 204h1v1h-1zM319 204h2v1h-2zM330 204h2v1h-2zM337 204h2v1h-2zM344 204h2v1h-2zM387 204h1v1h-1zM392 204h3v1h-3zM413 204h2v1h-2zM423 204h1v1h-1zM440 204h1v1h-1zM460 204h1v1h-1zM471 204h1v1h-1zM473 204h1v1h-1zM483 204h2v1h-2zM500 204h2v1h-2zM504 204h1v1h-1zM522 204h1v1h-1zM524 204h3v1h-3zM530 204h2v1h-2zM546 204h2v1h-2zM564 204h1v1h-1zM572 204h2v1h-2zM620 204h1v1h-1zM626 204h2v1h-2zM632 204h2v1h-2zM637 204h1v1h-1zM641 204h2v1h-2zM646 204h2v1h-2zM666 204h6v1h-6zM685 204h2v1h-2zM688 204h1v1h-1zM717 204h1v1h-1zM728 204h1v1h-1zM744 204h1v1h-1zM751 204h1v1h-1zM753 204h2v1h-2zM758 204h2v1h-2zM761 204h3v1h-3zM765 204h3v1h-3zM771 204h1v1h-1zM786 204h1v1h-1zM803 204h2v1h-2z"/>
<path fill="#3370fa" d="M81 205h1v1h-1zM90 205h1v1h-1zM125 205h3v1h-3zM129 205h2v1h-2zM133 205h2v1h-2zM152 205h3v1h-3zM186 205h1v1h-1zM206 205h1v1h-1zM252 205h1v1h-1zM272 205h2v1h-2zM287 205h2v1h-2zM297 205h1v1h-1zM308 205h4v1h-4zM319 205h1v1h-1zM330 205h2v1h-2zM338 205h1v1h-1zM344 205h1v1h-1zM413 205h3v1h-3zM423 205h1v1h-1zM440 205h1v1h-1zM460 205h1v1h-1zM471 205h3v1h-3zM484 205h1v1h-1zM500 205h2v1h-2zM522 205h3v1h-3zM526 205h2v1h-2zM530 205h2v1h-2zM547 205h1v1h-1zM564 205h1v1h-1zM572 205h2v1h-2zM620 205h2v1h-2zM626 205h1v1h-1zM633 205h1v1h-1zM636 205h2v1h-2zM642 205h1v1h-1zM646 205h2v1h-2zM686 205h4v1h-4zM717 205h1v1h-1zM728 205h1v1h-1zM744 205h1v1h-1zM751 205h3v1h-3zM759 205h4v1h-4zM766 205h2v1h-2zM771 205h1v1h-1zM785 205h2v1h-2zM803 205h2v1h-2z"/>
<path fill="#3772fb" d="M81 206h1v1h-1zM126 206h2v1h-2zM129 206h2v1h-2zM133 206h2v1h-2zM152 206h1v1h-1zM154 206h1v1h-1zM186 206h1v1h-1zM252 206h1v1h-1zM271 206h2v1h-2zM288 206h1v1h-1zM296 206h2v1h-2zM308 206h5v1h-5zM319 206h1v1h-1zM331 206h1v1h-1zM338 206h2v1h-2zM343 206h2v1h-2zM414 206h3v1h-3zM422 206h2v1h-2zM440 206h1v1h-1zM459 206h2v1h-2zM471 206h3v1h-3zM484 206h1v1h-1zM500 206h1v1h-1zM522 206h3v1h-3zM526 206h2v1h-2zM529 206h2v1h-2zM547 206h1v1h-1zM563 206h2v1h-2zM571 206h2v1h-2zM620 206h2v1h-2zM625 206h2v1h-2zM633 206h1v1h-1zM636 206h2v1h-2zM642 206h2v1h-2zM646 206h1v1h-1zM686 206h4v1h-4zM716 206h2v1h-2zM728 206h1v1h-1zM744 206h1v1h-1zM751 206h3v1h-3zM759 206h3v1h-3zM766 206h1v1h-1zM771 206h2v1h-2zM774 206h1v1h-1zM785 206h2v1h-2zM803 206h1v1h-1z"/>
<path fill="#3b74fc" d="M126 207h1v1h-1zM130 207h5v1h-5zM152 207h1v1h-1zM154 207h1v1h-1zM186 207h1v1h-1zM252 207h1v1h-1zM271 207h2v1h-2zM288 207h2v1h-2zM292 207h2v1h-2zM296 207h2v1h-2zM308 207h2v1h-2zM311 207h2v1h-2zM319 207h1v1h-1zM331 207h1v1h-1zM338 207h7v1h-7zM415 207h3v1h-3zM422 207h2v1h-2zM440 207h2v1h-2zM459 207h2v1h-2zM471 207h2v1h-2zM484 207h1v1h-1zM500 207h1v1h-1zM523 207h1v1h-1zM527 207h4v1h-4zM547 207h1v1h-1zM549 207h6v1h-6zM558 207h1v1h-1zM563 207h2v1h-2zM571 207h2v1h-2zM621 207h2v1h-2zM625 207h2v1h-2zM633 207h2v1h-2zM636 207h1v1h-1zM642 207h2v1h-2zM645 207h2v1h-2zM687 207h1v1h-1zM689 207h2v1h-2zM716 207h2v1h-2zM728 207h2v1h-2zM743 207h2v1h-2zM752 207h2v1h-2zM760 207h2v1h-2zM771 207h2v1h-2zM774 207h2v1h-2zM783 207h3v1h-3zM803 207h1v1h-1z"/>
<path fill="#3f76fc" d="M130 208h5v1h-5zM141 208h1v1h-1zM148 208h1v1h-1zM151 208h2v1h-2zM154 208h1v1h-1zM186 208h1v1h-1zM252 208h1v1h-1zM270 208h2v1h-2zM288 208h2v1h-2zM291 208h3v1h-3zM296 208h1v1h-1zM312 208h1v1h-1zM319 208h1v1h-1zM331 208h1v1h-1zM339 208h5v1h-5zM416 208h3v1h-3zM422 208h1v1h-1zM440 208h2v1h-2zM459 208h1v1h-1zM472 208h1v1h-1zM484 208h1v1h-1zM500 208h1v1h-1zM523 208h1v1h-1zM527 208h3v1h-3zM547 208h1v1h-1zM549 208h6v1h-6zM558 208h1v1h-1zM563 208h2v1h-2zM571 208h1v1h-1zM621 208h2v1h-2zM624 208h2v1h-2zM633 208h2v1h-2zM636 208h1v1h-1zM643 208h1v1h-1zM645 208h2v1h-2zM689 208h2v1h-2zM716 208h1v1h-1zM728 208h2v1h-2zM743 208h2v1h-2zM752 208h2v1h-2zM772 208h4v1h-4zM782 208h4v1h-4z"/>
<path fill="#4378fd" d="M131 209h2v1h-2zM134 209h1v1h-1zM141 209h2v1h-2zM148 209h2v1h-2zM151 209h2v1h-2zM154 209h1v1h-1zM177 209h1v1h-1zM186 209h1v1h-1zM252 209h2v1h-2zM270 209h2v1h-2zM289 209h6v1h-6zM296 209h1v1h-1zM312 209h1v1h-1zM318 209h2v1h-2zM339 209h2v1h-2zM417 209h2v1h-2zM422 209h1v1h-1zM441 209h1v1h-1zM459 209h1v1h-1zM472 209h1v1h-1zM484 209h2v1h-2zM488 209h1v1h-1zM500 209h1v1h-1zM523 209h1v1h-1zM528 209h2v1h-2zM547 209h3v1h-3zM554 209h2v1h-2zM557 209h2v1h-2zM563 209h2v1h-2zM571 209h1v1h-1zM622 209h4v1h-4zM634 209h1v1h-1zM636 209h1v1h-1zM643 209h3v1h-3zM690 209h5v1h-5zM715 209h2v1h-2zM729 209h1v1h-1zM743 209h1v1h-1zM752 209h1v1h-1zM772 209h5v1h-5zM782 209h2v1h-2z"/>
<path fill="#4879fe" d="M131 210h2v1h-2zM134 210h2v1h-2zM140 210h3v1h-3zM148 210h2v1h-2zM151 210h1v1h-1zM154 210h1v1h-1zM177 210h2v1h-2zM185 210h2v1h-2zM252 210h2v1h-2zM270 210h1v1h-1zM289 210h3v1h-3zM293 210h4v1h-4zM312 210h2v1h-2zM318 210h2v1h-2zM418 210h2v1h-2zM421 210h2v1h-2zM441 210h1v1h-1zM459 210h1v1h-1zM472 210h1v1h-1zM484 210h2v1h-2zM488 210h2v1h-2zM500 210h1v1h-1zM523 210h1v1h-1zM528 210h1v1h-1zM547 210h3v1h-3zM554 210h2v1h-2zM557 210h3v1h-3zM563 210h3v1h-3zM571 210h1v1h-1zM622 210h3v1h-3zM634 210h1v1h-1zM636 210h1v1h-1zM643 210h3v1h-3zM690 210h5v1h-5zM715 210h2v1h-2zM729 210h1v1h-1zM743 210h1v1h-1zM752 210h1v1h-1zM772 210h2v1h-2zM775 210h2v1h-2zM781 210h2v1h-2z"/>
<path fill="#4c7bff" d="M131 211h2v1h-2zM134 211h2v1h-2zM140 211h3v1h-3zM147 211h5v1h-5zM154 211h1v1h-1zM177 211h2v1h-2zM185 211h2v1h-2zM253 211h1v1h-1zM270 211h1v1h-1zM290 211h2v1h-2zM294 211h3v1h-3zM312 211h2v1h-2zM316 211h3v1h-3zM418 211h2v1h-2zM421 211h2v1h-2zM441 211h1v1h-1zM459 211h1v1h-1zM485 211h1v1h-1zM487 211h3v1h-3zM500 211h1v1h-1zM547 211h2v1h-2zM555 211h5v1h-5zM563 211h3v1h-3zM570 211h2v1h-2zM623 211h2v1h-2zM634 211h3v1h-3zM644 211h2v1h-2zM694 211h1v1h-1zM714 211h2v1h-2zM729 211h1v1h-1zM742 211h2v1h-2zM772 211h2v1h-2zM776 211h2v1h-2zM781 211h2v1h-2z"/>
<path fill="#507dff" d="M131 212h2v1h-2zM135 212h2v1h-2zM140 212h1v1h-1zM142 212h1v1h-1zM147 212h5v1h-5zM154 212h4v1h-4zM176 212h4v1h-4zM185 212h1v1h-1zM253 212h1v1h-1zM269 212h2v1h-2zM290 212h1v1h-1zM294 212h2v1h-2zM313 212h1v1h-1zM316 212h3v1h-3zM419 212h3v1h-3zM441 212h1v1h-1zM459 212h1v1h-1zM485 212h1v1h-1zM487 212h3v1h-3zM499 212h2v1h-2zM547 212h2v1h-2zM555 212h3v1h-3zM559 212h1v1h-1zM562 212h2v1h-2zM565 212h1v1h-1zM570 212h2v1h-2zM634 212h3v1h-3zM644 212h1v1h-1zM694 212h2v1h-2zM714 212h2v1h-2zM729 212h2v1h-2zM742 212h2v1h-2zM772 212h1v1h-1zM776 212h2v1h-2zM780 212h2v1h-2z"/>
<path fill="#557fff" d="M132 213h1v1h-1zM135 213h2v1h-2zM139 213h2v1h-2zM142 213h2v1h-2zM147 213h1v1h-1zM150 213h1v1h-1zM154 213h5v1h-5zM176 213h4v1h-4zM185 213h1v1h-1zM253 213h2v1h-2zM269 213h2v1h-2zM295 213h1v1h-1zM313 213h1v1h-1zM315 213h2v1h-2zM318 213h1v1h-1zM419 213h3v1h-3zM441 213h1v1h-1zM459 213h1v1h-1zM485 213h3v1h-3zM489 213h1v1h-1zM492 213h1v1h-1zM499 213h2v1h-2zM547 213h1v1h-1zM556 213h1v1h-1zM559 213h1v1h-1zM562 213h2v1h-2zM565 213h1v1h-1zM570 213h1v1h-1zM635 213h1v1h-1zM694 213h2v1h-2zM712 213h3v1h-3zM729 213h4v1h-4zM741 213h2v1h-2zM777 213h2v1h-2zM780 213h2v1h-2z"/>
<path fill="#5980ff" d="M132 214h1v1h-1zM136 214h1v1h-1zM139 214h2v1h-2zM142 214h2v1h-2zM147 214h1v1h-1zM157 214h3v1h-3zM176 214h1v1h-1zM179 214h1v1h-1zM185 214h1v1h-1zM253 214h2v1h-2zM269 214h1v1h-1zM313 214h4v1h-4zM420 214h1v1h-1zM441 214h1v1h-1zM458 214h2v1h-2zM485 214h3v1h-3zM489 214h4v1h-4zM499 214h1v1h-1zM559 214h1v1h-1zM562 214h1v1h-1zM565 214h1v1h-1zM570 214h1v1h-1zM635 214h1v1h-1zM695 214h1v1h-1zM712 214h3v1h-3zM730 214h3v1h-3zM740 214h3v1h-3zM777 214h2v1h-2zM780 214h1v1h-1z"/>
<path fill="#5e82ff" d="M136 215h2v1h-2zM139 215h1v1h-1zM143 215h1v1h-1zM146 215h2v1h-2zM158 215h2v1h-2zM176 215h1v1h-1zM179 215h2v1h-2zM185 215h1v1h-1zM254 215h1v1h-1zM269 215h1v1h-1zM313 215h3v1h-3zM441 215h2v1h-2zM458 215h2v1h-2zM486 215h1v1h-1zM489 215h4v1h-4zM497 215h3v1h-3zM559 215h1v1h-1zM562 215h1v1h-1zM565 215h1v1h-1zM570 215h1v1h-1zM635 215h1v1h-1zM695 215h1v1h-1zM711 215h2v1h-2zM732 215h2v1h-2zM740 215h2v1h-2zM778 215h3v1h-3z"/>
<path fill="#6284ff" d="M136 216h2v1h-2zM139 216h1v1h-1zM143 216h2v1h-2zM146 216h2v1h-2zM159 216h1v1h-1zM175 216h2v1h-2zM179 216h2v1h-2zM184 216h2v1h-2zM254 216h3v1h-3zM269 216h1v1h-1zM314 216h2v1h-2zM441 216h2v1h-2zM458 216h1v1h-1zM490 216h4v1h-4zM497 216h3v1h-3zM559 216h1v1h-1zM562 216h1v1h-1zM565 216h1v1h-1zM570 216h1v1h-1zM695 216h1v1h-1zM711 216h2v1h-2zM732 216h2v1h-2zM737 216h4v1h-4zM778 216h3v1h-3z"/>
<path fill="#6785ff" d="M137 217h3v1h-3zM143 217h2v1h-2zM146 217h1v1h-1zM159 217h1v1h-1zM175 217h2v1h-2zM180 217h1v1h-1zM184 217h2v1h-2zM254 217h4v1h-4zM268 217h2v1h-2zM314 217h1v1h-1zM442 217h1v1h-1zM458 217h1v1h-1zM490 217h4v1h-4zM496 217h2v1h-2zM499 217h1v1h-1zM559 217h4v1h-4zM565 217h1v1h-1zM570 217h1v1h-1zM695 217h1v1h-1zM711 217h1v1h-1zM733 217h1v1h-1zM736 217h5v1h-5zM779 217h1v1h-1z"/>
<path fill="#6b87ff" d="M137 218h3v1h-3zM144 218h3v1h-3zM159 218h2v1h-2zM163 218h1v1h-1zM175 218h1v1h-1zM180 218h1v1h-1zM184 218h1v1h-1zM256 218h2v1h-2zM268 218h2v1h-2zM442 218h1v1h-1zM457 218h2v1h-2zM493 218h1v1h-1zM496 218h2v1h-2zM559 218h4v1h-4zM565 218h2v1h-2zM569 218h2v1h-2zM695 218h1v1h-1zM711 218h1v1h-1zM733 218h5v1h-5zM739 218h1v1h-1z"/>
<path fill="#6f89ff" d="M138 219h1v1h-1zM144 219h3v1h-3zM159 219h6v1h-6zM175 219h1v1h-1zM180 219h1v1h-1zM184 219h1v1h-1zM257 219h2v1h-2zM262 219h1v1h-1zM268 219h1v1h-1zM442 219h1v1h-1zM456 219h3v1h-3zM493 219h1v1h-1zM496 219h1v1h-1zM560 219h2v1h-2zM565 219h6v1h-6zM695 219h1v1h-1zM710 219h2v1h-2zM733 219h4v1h-4z"/>
<path fill="#748aff" d="M160 220h5v1h-5zM174 220h2v1h-2zM180 220h2v1h-2zM184 220h1v1h-1zM257 220h2v1h-2zM261 220h3v1h-3zM268 220h1v1h-1zM442 220h2v1h-2zM456 220h2v1h-2zM493 220h1v1h-1zM496 220h1v1h-1zM560 220h2v1h-2zM566 220h4v1h-4zM695 220h1v1h-1zM710 220h2v1h-2zM734 220h2v1h-2z"/>
<path fill="#788cff" d="M160 221h2v1h-2zM164 221h1v1h-1zM174 221h2v1h-2zM180 221h2v1h-2zM183 221h2v1h-2zM258 221h1v1h-1zM261 221h3v1h-3zM268 221h1v1h-1zM442 221h2v1h-2zM456 221h1v1h-1zM493 221h1v1h-1zM495 221h2v1h-2zM560 221h2v1h-2zM568 221h2v1h-2zM695 221h2v1h-2zM709 221h2v1h-2zM734 221h2v1h-2z"/>
<path fill="#7d8eff" d="M164 222h1v1h-1zM174 222h1v1h-1zM181 222h1v1h-1zM183 222h2v1h-2zM258 222h1v1h-1zM260 222h2v1h-2zM263 222h2v1h-2zM268 222h1v1h-1zM443 222h1v1h-1zM456 222h1v1h-1zM493 222h4v1h-4zM560 222h1v1h-1zM569 222h1v1h-1zM695 222h2v1h-2zM707 222h4v1h-4z"/>
<path fill="#818fff" d="M164 223h2v1h-2zM172 223h3v1h-3zM181 223h1v1h-1zM183 223h1v1h-1zM258 223h4v1h-4zM263 223h2v1h-2zM268 223h1v1h-1zM443 223h1v1h-1zM455 223h2v1h-2zM493 223h3v1h-3zM696 223h1v1h-1zM698 223h3v1h-3zM706 223h4v1h-4z"/>
<path fill="#8691ff" d="M164 224h2v1h-2zM172 224h3v1h-3zM181 224h3v1h-3zM258 224h3v1h-3zM264 224h1v1h-1zM268 224h1v1h-1zM443 224h2v1h-2zM455 224h2v1h-2zM494 224h2v1h-2zM696 224h7v1h-7zM706 224h2v1h-2z"/>
<path fill="#8a92ff" d="M165 225h2v1h-2zM172 225h1v1h-1zM181 225h3v1h-3zM259 225h2v1h-2zM264 225h2v1h-2zM268 225h1v1h-1zM443 225h2v1h-2zM455 225h1v1h-1zM494 225h2v1h-2zM696 225h3v1h-3zM700 225h4v1h-4zM705 225h2v1h-2z"/>
<path fill="#8d93ff" d="M165 226h2v1h-2zM171 226h2v1h-2zM182 226h2v1h-2zM259 226h1v1h-1zM264 226h2v1h-2zM268 226h1v1h-1zM444 226h1v1h-1zM455 226h1v1h-1zM494 226h2v1h-2zM696 226h2v1h-2zM702 226h5v1h-5z"/>
<path fill="#9094ff" d="M166 227h2v1h-2zM171 227h2v1h-2zM182 227h1v1h-1zM265 227h1v1h-1zM267 227h2v1h-2zM444 227h2v1h-2zM455 227h1v1h-1zM494 227h1v1h-1zM696 227h2v1h-2zM703 227h3v1h-3z"/>
<path fill="#9395ff" d="M166 228h2v1h-2zM171 228h1v1h-1zM182 228h1v1h-1zM265 228h1v1h-1zM267 228h2v1h-2zM444 228h2v1h-2zM455 228h1v1h-1zM696 228h1v1h-1zM704 228h2v1h-2z"/>
<path fill="#9696ff" d="M167 229h2v1h-2zM171 229h1v1h-1zM265 229h3v1h-3zM445 229h1v1h-1zM455 229h1v1h-1z"/>
<path fill="#9997ff" d="M167 230h2v1h-2zM171 230h1v1h-1zM265 230h3v1h-3zM445 230h1v1h-1zM455 230h1v1h-1z"/>
<path fill="#9c98ff" d="M168 231h2v1h-2zM171 231h1v1h-1zM266 231h2v1h-2zM445 231h2v1h-2zM454 231h2v1h-2z"/>
<path fill="#9f99ff" d="M168 232h4v1h-4zM266 232h2v1h-2zM445 232h2v1h-2zM452 232h4v1h-4z"/>
<path fill="#a29aff" d="M169 233h3v1h-3zM266 233h2v1h-2zM446 233h1v1h-1zM451 233h4v1h-4z"/>
<path fill="#a59bff" d="M169 234h2v1h-2zM266 234h2v1h-2zM446 234h2v1h-2zM450 234h5v1h-5z"/>
<path fill="#a89cff" d="M170 235h1v1h-1zM267 235h1v1h-1zM446 235h2v1h-2zM449 235h3v1h-3zM453 235h2v1h-2z"/>
<path fill="#ab9dff" d="M267 236h1v1h-1zM447 236h4v1h-4zM454 236h1v1h-1z"/>
<path fill="#ae9eff" d="M447 237h3v1h-3z"/>
</g>
</svg></body></html>
